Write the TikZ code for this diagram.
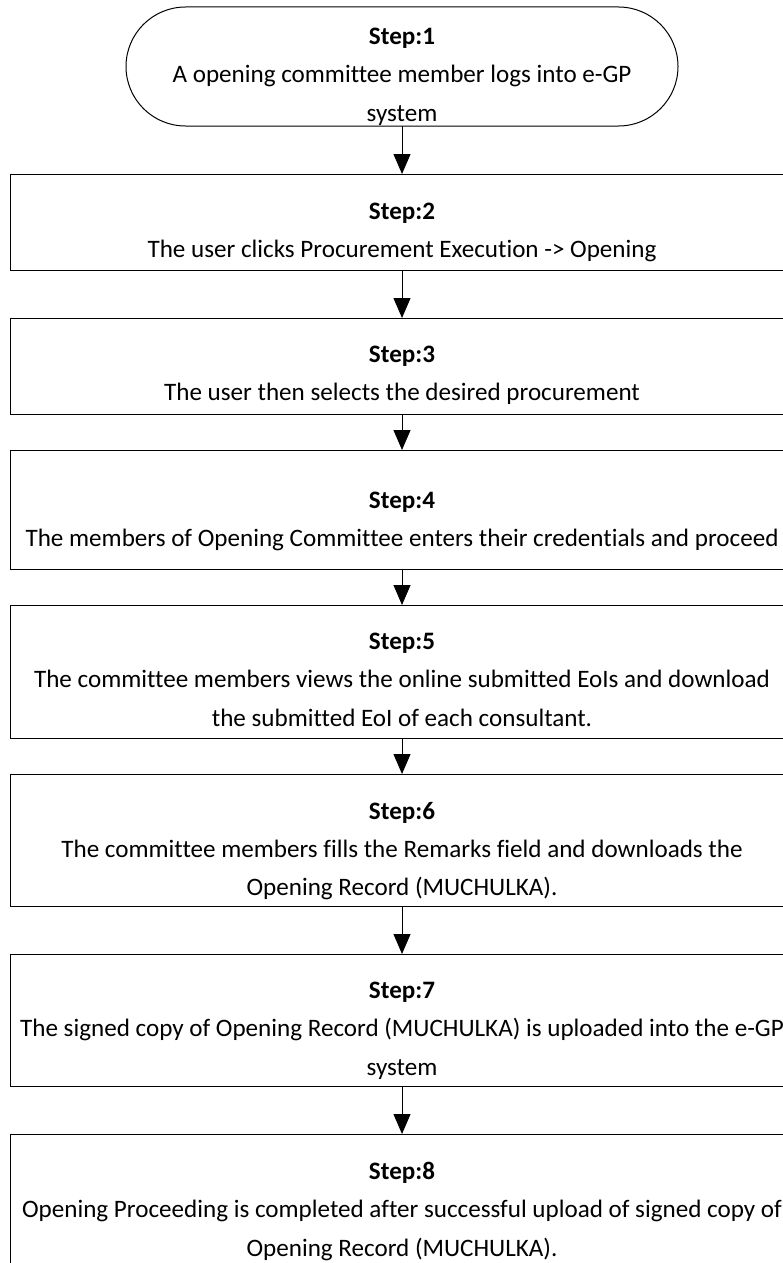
\documentclass[tikz,border=0pt]{standalone}
\usepackage{fontspec}
\setmainfont{Carlito}[Ligatures={TeX,NoCommon}]
\usetikzlibrary{arrows.meta, positioning}

\begin{document}
\begin{tikzpicture}[
  x=1pt, y=1pt,
  node distance=48pt,
  box/.style={draw, line width=1pt, outer sep=0pt, minimum width=784pt},
  term/.style={box, rounded corners=59.5pt, minimum width=552pt, minimum height=119pt},
  txt/.style={align=center, inner sep=0pt, font=\fontsize{25.1}{38.3}\selectfont},
  arr/.style={-{Triangle[length=20pt, width=17pt]}, line width=1pt}]
\useasboundingbox (0,0) rectangle (783,-1263);
\clip (0,0) rectangle (783,-1263);
\node[term] (s1) at (402,-66.5) {};
\node[box, minimum height=96pt, below=of s1] (s2) {};
\node[box, minimum height=96pt, below=of s2] (s3) {};
\node[box, minimum height=119pt, below=36pt of s3] (s4) {};
\node[box, minimum height=133pt, below=36pt of s4] (s5) {};
\node[box, minimum height=132pt, below=36pt of s5] (s6) {};
\node[box, minimum height=132pt, below=of s6] (s7) {};
\node[box, minimum height=160pt, below=of s7] (s8) {};
% texts
\node[txt, below=21pt of s1.north] (t1) {\textbf{Step:1}\\A opening committee member logs into e-GP\\system};
\node[txt, below=29pt of s2.north] (t2) {\textbf{Step:2}\\The user clicks Procurement Execution -> Opening};
\node[txt, below=28pt of s3.north] (t3) {\textbf{Step:3}\\The user then selects the desired procurement};
\node[txt, below=42pt of s4.north] (t4) {\textbf{Step:4}\\The members of Opening Committee enters their credentials and proceed};
\node[txt, below=28pt of s5.north] (t5) {\textbf{Step:5}\\The committee members views the online submitted EoIs and download\\the submitted EoI of each consultant.};
\node[txt, below=28pt of s6.north] (t6) {\textbf{Step:6}\\The committee members fills the Remarks field and downloads the\\Opening Record (MUCHULKA).};
\node[txt, below=28pt of s7.north] (t7) {\textbf{Step:7}\\The signed copy of Opening Record (MUCHULKA) is uploaded into the e-GP\\system};
\node[txt, below=28pt of s8.north] (t8) {\textbf{Step:8}\\Opening Proceeding is completed after successful upload of signed copy of\\Opening Record (MUCHULKA).};
\draw[arr] (s1) -- (s2);
\draw[arr] (s2) -- (s3);
\draw[arr] (s3) -- (s4);
\draw[arr] (s4) -- (s5);
\draw[arr] (s5) -- (s6);
\draw[arr] (s6) -- (s7);
\draw[arr] (s7) -- (s8);
\end{tikzpicture}
\end{document}
